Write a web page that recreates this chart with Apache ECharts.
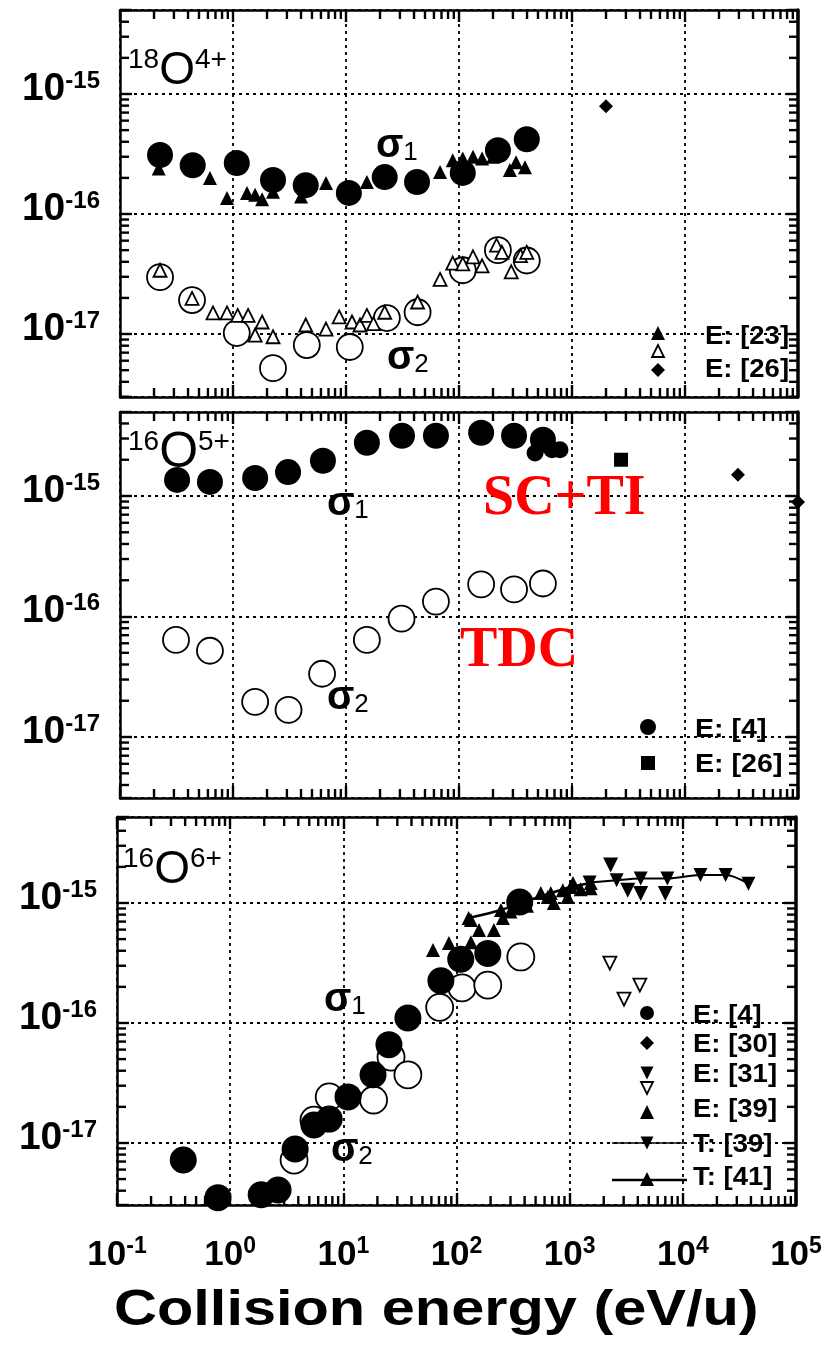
<!DOCTYPE html>
<html><head><meta charset="utf-8">
<script src="https://cdn.jsdelivr.net/npm/echarts@6/dist/echarts.min.js"></script>
<style>html,body{margin:0;padding:0;background:#fff}#c{width:831px;height:1347px}</style>
</head><body><div id="c"></div>
<script>
// ---------------- DATA ----------------
const X_MIN = 0.1, X_MAX = 1e5;
const xTickLabels = ['10^-1','10^0','10^1','10^2','10^3','10^4','10^5'];
const yTickLabels = ['10^-17','10^-16','10^-15'];
const minorMantissas = [2, 3, 4, 5, 6, 7, 8, 9];
const xDecades = [0.1, 1, 10, 100, 1000, 10000];
const yDecades = [1e-18, 1e-17, 1e-16, 1e-15];

// Panel 1: 18O4+
const p1Sig1X = [0.226, 0.44, 1.08, 2.26, 4.4, 10.6, 22, 42.5, 108, 221, 398];
const p1Sig1Y = [3.1e-16, 2.55e-16, 2.66e-16, 1.92e-16, 1.74e-16, 1.5e-16, 2.03e-16, 1.85e-16, 2.2e-16, 3.4e-16, 4.2e-16];
const p1Sig2X = [0.226, 0.434, 1.08, 2.26, 4.5, 10.8, 23, 43, 108, 221, 398];
const p1Sig2Y = [2.98e-17, 1.92e-17, 1.02e-17, 5.2e-18, 8.1e-18, 7.8e-18, 1.36e-17, 1.52e-17, 3.4e-17, 5.0e-17, 4.1e-17];
const p1E23FilledX = [0.22, 0.625, 0.885, 1.33, 1.57, 1.81, 2.26, 4.0, 6.65, 15.3, 68, 88, 108, 133, 160, 200, 282, 320, 384];
const p1E23FilledY = [2.4e-16, 2.0e-16, 1.36e-16, 1.5e-16, 1.45e-16, 1.33e-16, 1.53e-16, 1.4e-16, 1.81e-16, 1.85e-16, 2.24e-16, 2.8e-16, 2.9e-16, 3.0e-16, 2.9e-16, 3.0e-16, 2.33e-16, 2.7e-16, 2.45e-16];
const p1E23OpenX = [0.226, 0.434, 0.665, 0.885, 1.1, 1.36, 1.81, 1.57, 2.26, 4.4, 6.65, 8.7, 11.3, 13.3, 15.3, 17.5, 22, 43, 68, 88, 108, 133, 160, 215, 240, 290, 350, 398];
const p1E23OpenY = [3.4e-17, 1.98e-17, 1.5e-17, 1.5e-17, 1.43e-17, 1.43e-17, 1.26e-17, 9.8e-18, 9.5e-18, 1.19e-17, 1.1e-17, 1.39e-17, 1.26e-17, 1.19e-17, 1.43e-17, 1.22e-17, 1.52e-17, 1.85e-17, 2.85e-17, 3.9e-17, 3.85e-17, 4.4e-17, 3.7e-17, 5.5e-17, 4.8e-17, 3.3e-17, 4.5e-17, 4.8e-17];
const p1E26X = [2000];
const p1E26Y = [7.9e-16];

// Panel 2: 16O5+
const p2Sig1X = [0.32, 0.625, 1.57, 3.07, 6.25, 15.3, 31.3, 62.5, 157, 307, 553];
const p2Sig1Y = [1.36e-15, 1.31e-15, 1.41e-15, 1.58e-15, 1.96e-15, 2.77e-15, 3.16e-15, 3.16e-15, 3.35e-15, 3.16e-15, 2.93e-15];
const p2Sig2X = [0.313, 0.625, 1.57, 3.1, 6.14, 15.3, 31, 62.5, 157, 307, 553];
const p2Sig2Y = [6.4e-17, 5.2e-17, 1.96e-17, 1.68e-17, 3.35e-17, 6.4e-17, 9.6e-17, 1.33e-16, 1.85e-16, 1.68e-16, 1.88e-16];
const p2E4X = [471, 665, 783];
const p2E4Y = [2.28e-15, 2.42e-15, 2.42e-15];
const p2E26X = [2716];
const p2E26Y = [2.0e-15];
const p2DiamondX = [29400, 1e5];
const p2DiamondY = [1.5e-15, 8.9e-16];

// Panel 3: 16O6+
const p3Sig1X = [0.385, 0.78, 1.88, 2.65, 3.75, 5.5, 7.5, 11, 18.3, 25.3, 37.2, 72.8, 109, 189, 362];
const p3Sig1Y = [7.2e-18, 3.5e-18, 3.7e-18, 4.06e-18, 8.9e-18, 1.41e-17, 1.58e-17, 2.42e-17, 3.7e-17, 6.6e-17, 1.1e-16, 2.25e-16, 3.4e-16, 3.8e-16, 1.02e-15];
const p3Sig2X = [3.67, 5.5, 7.5, 18.5, 26.4, 37.2, 71, 112, 189, 370];
const p3Sig2Y = [7.2e-18, 1.55e-17, 2.42e-17, 2.28e-17, 5.2e-17, 3.7e-17, 1.35e-16, 1.96e-16, 2.07e-16, 3.55e-16];
const p3E39X = [62, 85.7, 134, 134, 158, 214, 257, 300, 420, 556, 640, 724, 870, 960, 1070, 1250, 1530];
const p3E39Y = [4.06e-16, 4.64e-16, 4.7e-16, 7.2e-16, 5.96e-16, 5.96e-16, 7.5e-16, 8.5e-16, 9.5e-16, 1.21e-15, 1.12e-15, 1.0e-15, 1.28e-15, 1.12e-15, 1.47e-15, 1.3e-15, 1.33e-15];
const p3E31FilledX = [2300, 3260, 4240, 7000];
const p3E31FilledY = [2.07e-15, 1.28e-15, 1.2e-15, 1.2e-15];
const p3E31OpenX = [2265, 3020, 4170];
const p3E31OpenY = [3.16e-16, 1.58e-16, 2.07e-16];
const p3T39X = [1500, 2600, 4240, 7300, 14300, 23900, 38000];
const p3T39Y = [1.48e-15, 1.55e-15, 1.6e-15, 1.6e-15, 1.71e-15, 1.71e-15, 1.45e-15];
const p3T41X = [128, 247, 370, 681, 1023, 1535];
const p3T41Y = [7.5e-16, 8.75e-16, 1.0e-15, 1.21e-15, 1.36e-15, 1.47e-15];

// ---------------- HELPERS ----------------
const zip = (xs, ys) => xs.map((x, i) => [x, ys[i]]);
const SANS = '"Liberation Sans", Arial, sans-serif';
const NARROW = '"Liberation Sans Narrow", "Arial Narrow", "Liberation Sans", sans-serif';
const BLACK = '#000';

const grids = [
  {left: 120, top: 10, width: 678, height: 387, yMin: 2.99e-18, yMax: 5.01e-15},
  {left: 120, top: 412, width: 678, height: 386, yMin: 3.12e-18, yMax: 4.98e-15},
  {left: 117, top: 817, width: 679, height: 388, yMin: 3.04e-18, yMax: 5.21e-15}
];

const xMinor = [], yMinor = [];
xDecades.forEach(d => minorMantissas.forEach(m => xMinor.push(m * d)));
yDecades.forEach(d => minorMantissas.forEach(m => yMinor.push(m * d)));

const isDecade = v => { const e = Math.log10(v); return Math.abs(e - Math.round(e)) < 1e-6; };

const xAxes = [], yAxes = [];
grids.forEach((g, i) => {
  const last = i === 2;
  const common = {
    gridIndex: i, type: 'log', logBase: 10,
    axisLine: {show: true, onZero: false, lineStyle: {color: BLACK, width: 2.5}},
    axisTick: {show: true, inside: true, length: 12, lineStyle: {color: BLACK, width: 2.4}},
    minorTick: {show: false}
  };
  xAxes.push(Object.assign({}, common, {
    min: X_MIN, max: X_MAX, position: 'bottom',
    splitLine: {show: true, lineStyle: {color: BLACK, width: 1.8, type: [3, 4]}},
    axisLabel: {
      show: last, interval: 0, margin: 30, showMinLabel: true, showMaxLabel: true,
      formatter: v => isDecade(v) ? '{b|10}{s|' + Math.round(Math.log10(v)) + '}' : '',
      rich: {
        b: {fontFamily: SANS, fontWeight: 'bold', fontSize: 35, lineHeight: 40, color: BLACK},
        s: {fontFamily: SANS, fontWeight: 'bold', fontSize: 23, lineHeight: 16, verticalAlign: 'top', color: BLACK}
      }
    }
  }));
  xAxes.push(Object.assign({}, common, {
    min: X_MIN, max: X_MAX, position: 'top',
    splitLine: {show: false}, axisLabel: {show: false}
  }));
  yAxes.push(Object.assign({}, common, {
    min: g.yMin, max: g.yMax, position: 'left',
    splitLine: {show: true, lineStyle: {color: BLACK, width: 1.8, type: [3, 4]}},
    axisLabel: {
      show: true, margin: 20, padding: [0, 0, 10, 0],
      formatter: v => isDecade(v) ? '{b|10}{s|' + Math.round(Math.log10(v)) + '}' : '',
      rich: {
        b: {fontFamily: NARROW, fontWeight: 'bold', fontSize: 39, lineHeight: 40, color: BLACK},
        s: {fontFamily: SANS, fontWeight: 'bold', fontSize: 24, lineHeight: 8, verticalAlign: 'top', color: BLACK}
      }
    }
  }));
  yAxes.push(Object.assign({}, common, {
    min: g.yMin, max: g.yMax, position: 'right',
    axisLine: {show: true, onZero: false, lineStyle: {color: BLACK, width: 3.5}},
    splitLine: {show: false}, axisLabel: {show: false}
  }));
});

// minor log ticks on all four frame sides: short bar symbols placed by the axes' scales
function minorTickSeries(gi) {
  const g = grids[gi];
  const L = 9, W = 2.4;
  const xs = xMinor.filter(v => v > X_MIN && v < X_MAX);
  const ys = yMinor.filter(v => v > g.yMin && v < g.yMax);
  const base = {type: 'scatter', xAxisIndex: gi * 2, yAxisIndex: gi * 2, silent: true, clip: false, z: 10,
    symbol: 'rect', itemStyle: {color: BLACK, opacity: 1}};
  return [
    Object.assign({}, base, {data: xs.map(v => [v, g.yMin]), symbolSize: [W, L], symbolOffset: [0, -L / 2]}),
    Object.assign({}, base, {data: xs.map(v => [v, g.yMax]), symbolSize: [W, L], symbolOffset: [0, L / 2]}),
    Object.assign({}, base, {data: ys.map(v => [X_MIN, v]), symbolSize: [L, W], symbolOffset: [L / 2, 0]}),
    Object.assign({}, base, {data: ys.map(v => [X_MAX, v]), symbolSize: [L, W], symbolOffset: [-L / 2, 0]})
  ];
}

function scat(name, gi, data, opt) {
  return Object.assign({
    name, type: 'scatter', xAxisIndex: gi * 2, yAxisIndex: gi * 2, data,
    clip: false, silent: true, z: 3
  }, opt);
}
const filled = (symbol, size, z, rot) => ({symbol, symbolSize: size, symbolRotate: rot || 0, z, itemStyle: {color: BLACK, opacity: 1}});
const hollow = (symbol, size, z, rot) => ({symbol, symbolSize: size, symbolRotate: rot || 0, z, itemStyle: {color: '#fff', borderColor: BLACK, borderWidth: 1.8, opacity: 1}});

const series = [].concat(minorTickSeries(0), minorTickSeries(1), minorTickSeries(2), [
  // panel 1
  scat('σ2 present', 0, zip(p1Sig2X, p1Sig2Y), hollow('circle', 26, 3)),
  scat('E: [23] σ2', 0, zip(p1E23OpenX, p1E23OpenY), hollow('triangle', 13, 4)),
  scat('σ1 present', 0, zip(p1Sig1X, p1Sig1Y), filled('circle', 26, 5)),
  scat('E: [23] σ1', 0, zip(p1E23FilledX, p1E23FilledY), filled('triangle', 14, 6)),
  scat('E: [26]', 0, zip(p1E26X, p1E26Y), filled('diamond', 14, 6)),
  // panel 2
  scat('TDC σ2', 1, zip(p2Sig2X, p2Sig2Y), hollow('circle', 26, 3)),
  scat('SC+TI σ1', 1, zip(p2Sig1X, p2Sig1Y), filled('circle', 26, 5)),
  scat('E: [4]', 1, zip(p2E4X, p2E4Y), filled('circle', 17, 6)),
  scat('E: [26] p2', 1, zip(p2E26X, p2E26Y), filled('rect', 14, 6)),
  scat('diamonds p2', 1, zip(p2DiamondX, p2DiamondY), filled('diamond', 14, 6)),
  // panel 3
  scat('σ2 p3', 2, zip(p3Sig2X, p3Sig2Y), hollow('circle', 27, 3)),
  scat('σ1 p3', 2, zip(p3Sig1X, p3Sig1Y), filled('circle', 27, 4)),
  scat('E: [39]', 2, zip(p3E39X, p3E39Y), filled('triangle', 14, 6)),
  scat('E: [31] filled', 2, zip(p3E31FilledX, p3E31FilledY), filled('triangle', 15, 6, 180)),
  scat('E: [31] open', 2, zip(p3E31OpenX, p3E31OpenY), hollow('triangle', 13, 6, 180)),
  {name: 'T: [39]', type: 'line', xAxisIndex: 4, yAxisIndex: 4, data: zip(p3T39X, p3T39Y),
   smooth: 0.3, symbol: 'triangle', symbolRotate: 180, symbolSize: 14, showSymbol: true, z: 5,
   lineStyle: {color: BLACK, width: 2, opacity: 1}, itemStyle: {color: BLACK, opacity: 1}, silent: true},
  {name: 'T: [41]', type: 'line', xAxisIndex: 4, yAxisIndex: 4, data: zip(p3T41X, p3T41Y),
   smooth: 0.3, symbol: 'triangle', symbolSize: 14, showSymbol: true, z: 5,
   lineStyle: {color: BLACK, width: 2.5, opacity: 1}, itemStyle: {color: BLACK, opacity: 1}, silent: true}
]);

// ---------------- TEXT / LEGEND GRAPHICS ----------------
function txt(x, y, text, rich, extra) {
  return Object.assign({type: 'text', x, y, z: 100, silent: true,
    style: {text, rich, fill: BLACK, align: 'left', verticalAlign: 'middle'}}, extra || {});
}
function plain(x, y, text, font, extra) {
  return Object.assign({type: 'text', x, y, z: 100, silent: true,
    style: {text, font, fill: BLACK, align: 'left', verticalAlign: 'middle'}}, extra || {});
}
const titleRich = (oSize) => ({
  n: {fontFamily: SANS, fontSize: 28, lineHeight: 20, verticalAlign: 'top', fill: BLACK},
  o: {fontFamily: SANS, fontSize: oSize, lineHeight: 50, fill: BLACK}
});
const sigRich = {
  g: {fontFamily: SANS, fontWeight: 'bold', fontSize: 40, lineHeight: 40, fill: BLACK},
  d: {fontFamily: SANS, fontSize: 26, lineHeight: 14, verticalAlign: 'bottom', fill: BLACK}
};
const LEG = 'bold 25px ' + SANS;
const legScale = {scaleX: 1.1};
const tri = (cx, cy, h, down, fill) => ({type: 'polygon', z: 100, silent: true,
  shape: {points: down ? [[cx - h/2, cy - h/2], [cx + h/2, cy - h/2], [cx, cy + h/2]] : [[cx, cy - h/2], [cx - h/2, cy + h/2], [cx + h/2, cy + h/2]]},
  style: fill ? {fill: BLACK} : {fill: '#fff', stroke: BLACK, lineWidth: 1.8}});
const dia = (cx, cy, h) => ({type: 'polygon', z: 100, silent: true,
  shape: {points: [[cx, cy - h], [cx + h, cy], [cx, cy + h], [cx - h, cy]]}, style: {fill: BLACK}});

const graphics = [
  // titles
  txt(128, 71, '{n|18}{o|O}{n|4+}', titleRich(46)),
  txt(128, 453, '{n|16}{o|O}{n|5+}', titleRich(50)),
  txt(123, 870, '{n|16}{o|O}{n|6+}', titleRich(46)),
  // sigma labels
  txt(376, 146, '{g|σ}{d|1}', sigRich),
  txt(387, 358, '{g|σ}{d|2}', sigRich),
  txt(327, 504, '{g|σ}{d|1}', sigRich),
  txt(327, 698, '{g|σ}{d|2}', sigRich),
  txt(324, 1000, '{g|σ}{d|1}', sigRich),
  txt(331, 1150, '{g|σ}{d|2}', sigRich),
  // red labels
  {type: 'text', x: 483, y: 500, z: 100, silent: true, style: {text: 'SC+TI', font: 'bold 56px "Liberation Serif", "Times New Roman", serif', fill: '#ff0000', align: 'left', verticalAlign: 'middle'}},
  {type: 'text', x: 460, y: 652, z: 100, silent: true, style: {text: 'TDC', font: 'bold 56px "Liberation Serif", "Times New Roman", serif', fill: '#ff0000', align: 'left', verticalAlign: 'middle'}},
  // legend panel 1
  tri(658, 333, 14, false, true), tri(658, 351, 12, false, false), dia(658, 370, 7),
  plain(705, 337, 'E: [23]', LEG, legScale), plain(705, 370, 'E: [26]', LEG, legScale),
  // legend panel 2
  {type: 'circle', z: 100, silent: true, shape: {cx: 648, cy: 727, r: 8}, style: {fill: BLACK}},
  {type: 'rect', z: 100, silent: true, shape: {x: 641, y: 756, width: 14, height: 14}, style: {fill: BLACK}},
  plain(695, 730, 'E: [4]', 'bold 26px ' + SANS, legScale), plain(695, 765, 'E: [26]', 'bold 26px ' + SANS, legScale),
  // legend panel 3
  {type: 'circle', z: 100, silent: true, shape: {cx: 647, cy: 1013, r: 7}, style: {fill: BLACK}},
  dia(647, 1043, 7),
  tri(647, 1073, 13, true, true), tri(647, 1088, 12, true, false),
  tri(647, 1112, 14, false, true),
  {type: 'line', z: 100, silent: true, shape: {x1: 612, y1: 1143, x2: 687, y2: 1143}, style: {stroke: BLACK, lineWidth: 1.5}},
  tri(647, 1143, 13, true, true),
  {type: 'line', z: 100, silent: true, shape: {x1: 612, y1: 1180, x2: 687, y2: 1180}, style: {stroke: BLACK, lineWidth: 2.5}},
  tri(647, 1179, 14, false, true),
  plain(693, 1016, 'E: [4]', LEG, legScale), plain(693, 1045, 'E: [30]', LEG, legScale),
  plain(693, 1075, 'E: [31]', LEG, legScale), plain(693, 1110, 'E: [39]', LEG, legScale),
  plain(693, 1145, 'T: [39]', LEG, legScale), plain(693, 1178, 'T: [41]', LEG, legScale),
  // x axis title
  plain(114, 1311, 'Collision energy (eV/u)', 'bold 50px ' + SANS, {scaleX: 1.19})
];

const chart = echarts.init(document.getElementById('c'), null, {renderer: 'canvas'});
chart.setOption({
  animation: false,
  backgroundColor: '#fff',
  grid: grids.map(g => ({left: g.left, top: g.top, width: g.width, height: g.height, containLabel: false, outerBoundsMode: 'none', show: false})),
  xAxis: xAxes,
  yAxis: yAxes,
  series,
  graphic: graphics
});
</script></body></html>
